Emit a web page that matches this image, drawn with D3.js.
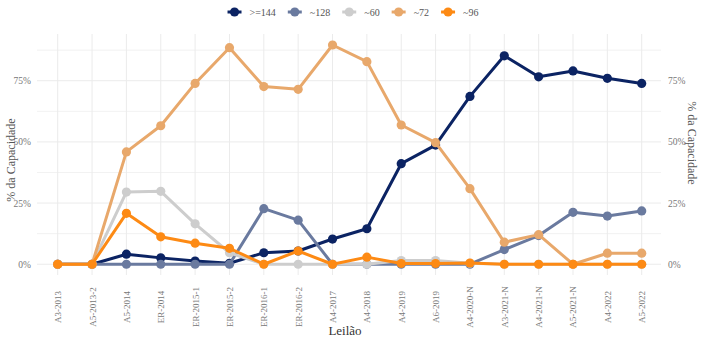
<!DOCTYPE html>
<html><head><meta charset="utf-8">
<script src="https://cdn.jsdelivr.net/npm/d3@7"></script>
<style>
body{margin:0;background:#fff;}
svg, svg text{font-family:"Liberation Serif","Times New Roman",serif !important;}
</style></head>
<body><svg id="c" width="703" height="338"></svg>
<script>
const categories = ["A3-2013","A5-2013-2","A5-2014","ER-2014","ER-2015-1","ER-2015-2","ER-2016-1","ER-2016-2","A4-2017","A4-2018","A4-2019","A6-2019","A4-2020-N","A3-2021-N","A4-2021-N","A5-2021-N","A4-2022","A5-2022"];
const seriesNames = [">=144","~128","~60","~72","~96"];
const s144 = [0,0,4.1,2.6,1.3,0.4,4.7,5.4,10.3,14.5,41.1,48.7,68.6,85.2,76.6,79.0,76.0,73.9];
const s128 = [0,0,0,0,0,0,22.7,18.0,0,0,0,0,0,6.0,11.7,21.2,19.7,21.8];
const s60  = [0,0,29.5,29.8,16.5,4.7,0,0,0,0,1.5,1.5,0.4,0,0,0,0,0];
const s72  = [0,0,45.9,56.6,73.9,88.5,72.6,71.5,89.6,82.8,56.9,49.7,30.9,9.0,12.1,0,4.5,4.5];
const s96  = [0,0,20.8,11.2,8.6,6.5,0,5.4,0,2.9,0.3,0.3,0.5,0,0,0,0,0];
const yTicks = [0,25,50,75];
const colors = ["#0b2363","#6a7a9f","#cdcdcd","#e8a86b","#fd8a14"];
const allSeries = [s144,s128,s60,s72,s96];

const svg = d3.select("#c");
const L = 37, R = 661, T = 34, B = 275;
const x = d3.scalePoint().domain(categories).range([57.7, 641.7]);
const y = d3.scaleLinear().domain([-4.4, 94.1]).range([B, T]);

const g = svg.append("g");
const minor = [12.5,37.5,62.5,87.5];
g.selectAll(".gm").data(minor).join("line")
 .attr("x1",L).attr("x2",R).attr("y1",d=>y(d)).attr("y2",d=>y(d))
 .attr("stroke","#f2f2f2").attr("stroke-width",1);
g.selectAll(".gy").data(yTicks).join("line")
 .attr("x1",L).attr("x2",R).attr("y1",d=>y(d)).attr("y2",d=>y(d))
 .attr("stroke","#ebebeb").attr("stroke-width",1);
g.selectAll(".gx").data(categories).join("line")
 .attr("x1",d=>x(d)).attr("x2",d=>x(d)).attr("y1",T).attr("y2",B)
 .attr("stroke","#ebebeb").attr("stroke-width",1);

const leftAxis = d3.axisLeft(y).tickValues(yTicks).tickFormat(d=>d+"%").tickSize(0).tickPadding(6);
const la = svg.append("g").attr("transform",`translate(${L},0)`).call(leftAxis);
const rightAxis = d3.axisRight(y).tickValues(yTicks).tickFormat(d=>d+"%").tickSize(0).tickPadding(7);
const ra = svg.append("g").attr("transform",`translate(${R},0)`).call(rightAxis);
[la,ra].forEach(a=>{a.select(".domain").remove();
  a.selectAll("text").attr("font-size",9.5).attr("fill","#777");});

const xAxis = d3.axisBottom(x).tickSize(0).tickPadding(0);
const xa = svg.append("g").call(xAxis);
xa.select(".domain").remove();
xa.selectAll(".tick text")
  .attr("font-size",9).attr("fill","#777")
  .attr("text-anchor","middle").attr("dy",null).attr("y",null)
  .attr("transform","translate(0,307) rotate(-90)")
  .attr("dominant-baseline","central");

svg.append("text").attr("transform","translate(11,160) rotate(-90)").attr("text-anchor","middle")
 .attr("dominant-baseline","central").attr("font-size",12).attr("fill","#555").text("% da Capacidade");
svg.append("text").attr("transform","translate(692,143) rotate(90)").attr("text-anchor","middle")
 .attr("dominant-baseline","central").attr("font-size",12).attr("fill","#555").text("% da Capacidade");
svg.append("text").attr("x",345).attr("y",335).attr("text-anchor","middle")
 .attr("font-size",13).attr("fill","#333").text("Leilão");

const line = d3.line().x((d,i)=>x(categories[i])).y(d=>y(d));
allSeries.forEach((s,k)=>{
  const sg = svg.append("g");
  sg.append("path").datum(s).attr("d",line).attr("fill","none")
    .attr("stroke",colors[k]).attr("stroke-width",3).attr("stroke-linejoin","round");
  sg.selectAll("circle").data(s).join("circle")
    .attr("cx",(d,i)=>x(categories[i])).attr("cy",d=>y(d)).attr("r",4.6).attr("fill",colors[k]);
});

const lg = svg.append("g");
let cx = 0;
seriesNames.forEach((n,k)=>{
  const it = lg.append("g").attr("transform",`translate(${cx},0)`);
  it.append("line").attr("x1",-7).attr("x2",7).attr("y1",0).attr("y2",0).attr("stroke",colors[k]).attr("stroke-width",3);
  it.append("circle").attr("r",4.6).attr("fill",colors[k]);
  const t = it.append("text").attr("x",15).attr("y",0).attr("dominant-baseline","central")
    .attr("font-size",10).attr("fill","#555").text(n);
  const w = t.node().getComputedTextLength();
  cx += 15 + w + 19;
});
const totalW = cx - 19 + 7;
lg.attr("transform",`translate(${353 - totalW/2 + 7},12)`);
</script></body></html>
